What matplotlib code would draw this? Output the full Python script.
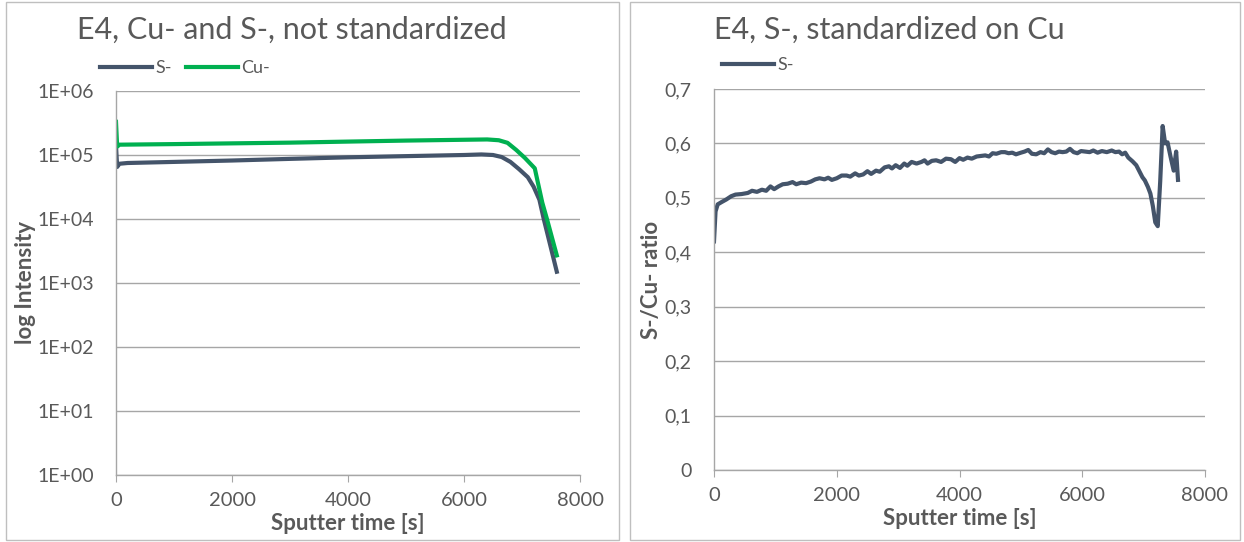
import math
import matplotlib
matplotlib.use("Agg")
import matplotlib.pyplot as plt
from matplotlib.patches import Rectangle
from matplotlib.ticker import FixedLocator, FuncFormatter

# left panel: raw intensities
t_raw = [0, 20, 60, 200, 1000, 2000, 3000, 4000, 5000, 6000, 6300, 6500, 6650,
         6800, 6950, 7100, 7200, 7300, 7375, 7500, 7600]
s_raw = [1.4e5, 6.5e4, 7.3e4, 7.5e4, 7.8e4, 8.2e4, 8.7e4, 9.2e4, 9.6e4, 1.0e5,
         1.02e5, 1.0e5, 9.3e4, 7.8e4, 6.0e4, 4.5e4, 3.2e4, 2.0e4, 1.0e4, 3.5e3, 1.5e3]
t_cu = [0, 20, 60, 1000, 2000, 3000, 4000, 5000, 6000, 6400, 6600, 6750, 6900,
        7050, 7220, 7280, 7350, 7430, 7600]
cu_raw = [3.3e5, 1.35e5, 1.45e5, 1.48e5, 1.52e5, 1.56e5, 1.62e5, 1.68e5, 1.73e5,
          1.75e5, 1.7e5, 1.55e5, 1.2e5, 9.0e4, 6.2e4, 3.5e4, 1.8e4, 1.0e4, 2.7e3]

# right panel: S-/Cu- ratio
t_ratio = [0, 25, 60, 120, 200, 280, 350, 450, 550, 620, 700, 780, 850, 920, 980,
           1050, 1120, 1200, 1280, 1340, 1420, 1500, 1580, 1650, 1720, 1800, 1860,
           1920, 2000, 2080, 2160, 2220, 2300, 2360, 2430, 2500, 2560, 2640, 2700,
           2780, 2850, 2900, 2960, 3030, 3100, 3150, 3220, 3300, 3380, 3430, 3480,
           3550, 3620, 3700, 3780, 3860, 3930, 4000, 4060, 4130, 4200, 4280, 4350,
           4420, 4480, 4540, 4600, 4680, 4740, 4800, 4860, 4920, 5000, 5060, 5120,
           5180, 5250, 5320, 5380, 5440, 5500, 5560, 5620, 5680, 5740, 5800, 5860,
           5920, 5980, 6050, 6120, 6180, 6250, 6320, 6400, 6480, 6540, 6600, 6650,
           6700, 6750, 6820, 6880, 6930, 6980, 7020, 7070, 7110, 7150, 7190, 7230,
           7270, 7310, 7350, 7390, 7440, 7490, 7530, 7560]
ratio = [0.420, 0.475, 0.488, 0.492, 0.497, 0.503, 0.506, 0.507, 0.509, 0.513,
         0.511, 0.515, 0.513, 0.521, 0.516, 0.521, 0.525, 0.526, 0.529, 0.525,
         0.528, 0.527, 0.530, 0.534, 0.536, 0.534, 0.537, 0.533, 0.536, 0.541,
         0.541, 0.539, 0.545, 0.541, 0.543, 0.549, 0.544, 0.550, 0.548, 0.556,
         0.558, 0.554, 0.560, 0.555, 0.563, 0.559, 0.566, 0.563, 0.566, 0.569,
         0.563, 0.568, 0.569, 0.566, 0.572, 0.571, 0.566, 0.573, 0.570, 0.574,
         0.572, 0.576, 0.577, 0.578, 0.576, 0.582, 0.581, 0.584, 0.584, 0.582,
         0.583, 0.580, 0.583, 0.585, 0.588, 0.581, 0.580, 0.584, 0.582, 0.589,
         0.584, 0.582, 0.585, 0.584, 0.585, 0.590, 0.584, 0.582, 0.586, 0.585,
         0.584, 0.587, 0.583, 0.586, 0.584, 0.587, 0.584, 0.585, 0.580, 0.583,
         0.574, 0.567, 0.560, 0.549, 0.538, 0.532, 0.520, 0.508, 0.485, 0.455,
         0.448, 0.530, 0.632, 0.600, 0.602, 0.575, 0.550, 0.585, 0.533]

x_ticks = [0, 2000, 4000, 6000, 8000]
log_ticks = [1e0, 1e1, 1e2, 1e3, 1e4, 1e5, 1e6]
log_labels = ["1E+00", "1E+01", "1E+02", "1E+03", "1E+04", "1E+05", "1E+06"]
ratio_ticks = [0, 0.1, 0.2, 0.3, 0.4, 0.5, 0.6, 0.7]

S_COL = "#44546A"
CU_COL = "#00B050"
TXT = "#595959"
GRID = "#A6A6A6"

plt.rcParams["font.family"] = ["Lato", "DejaVu Sans"]

fig = plt.figure(figsize=(12.44, 5.42), dpi=100)

# panel frames
for x0, w in [(6, 613), (630, 610)]:
    fig.patches.append(Rectangle((x0 / 1244, 2 / 542), w / 1244, 538 / 542,
                                 transform=fig.transFigure, fill=False,
                                 edgecolor="#BFBFBF", linewidth=1.0))


def style_axes(ax):
    for side in ["top", "right"]:
        ax.spines[side].set_visible(False)
    for side in ["left", "bottom"]:
        ax.spines[side].set_color(GRID)
        ax.spines[side].set_linewidth(1.0)
    ax.grid(axis="y", color=GRID, linewidth=1.0)
    ax.set_axisbelow(True)
    ax.tick_params(axis="x", direction="out", length=5, color=GRID,
                   labelsize=14.5, labelcolor=TXT, pad=7)
    ax.tick_params(axis="y", length=0, labelsize=14, labelcolor=TXT, pad=16)
    ax.set_xlim(0, 8000)
    ax.set_xticks(x_ticks)
    ax.set_xlabel("Sputter time [s]", fontsize=16, fontweight="bold",
                  color=TXT, labelpad=3)


ax1 = fig.add_axes([116 / 1244, 1 - 475 / 542, 464 / 1244, 384 / 542])
style_axes(ax1)
ax1.set_yscale("log")
ax1.set_ylim(1, 1e6)
ax1.yaxis.set_major_locator(FixedLocator(log_ticks))
ax1.yaxis.set_minor_locator(FixedLocator([]))
ax1.yaxis.set_major_formatter(FuncFormatter(lambda v, p: log_labels[int(round(math.log10(v)))]))
ax1.plot(t_raw, s_raw, color=S_COL, linewidth=3, label="S-", solid_joinstyle="round")
ax1.plot(t_cu, cu_raw, color=CU_COL, linewidth=3, label="Cu-", solid_joinstyle="round")
ax1.set_ylabel("log Intensity", fontsize=16, fontweight="bold", color=TXT, labelpad=1)
fig.legend(handles=ax1.get_lines(), loc="upper left",
           bbox_to_anchor=(100 / 1244, 1 - 60 / 542), ncol=2, frameon=False,
           fontsize=13, labelcolor=TXT, handlelength=2.9, handletextpad=0.15,
           columnspacing=0.8, borderaxespad=0, borderpad=0)
fig.text(292 / 1244, 1 - 30 / 542, "E4, Cu- and S-, not standardized",
         fontsize=22, color=TXT, ha="center", va="center")

ax2 = fig.add_axes([714 / 1244, 1 - 470 / 542, 491 / 1244, 381 / 542])
style_axes(ax2)
ax2.set_ylim(0, 0.7)
ax2.set_yticks(ratio_ticks)
ax2.yaxis.set_major_formatter(FuncFormatter(lambda v, p: ("%.1f" % v).replace(".", ",") if v else "0"))
ax2.plot(t_ratio, ratio, color=S_COL, linewidth=3, label="S-", solid_joinstyle="round")
ax2.set_ylabel("S-/Cu- ratio", fontsize=16, fontweight="bold", color=TXT, labelpad=2)
fig.legend(handles=ax2.get_lines(), loc="upper left",
           bbox_to_anchor=(722 / 1244, 1 - 57 / 542), frameon=False,
           fontsize=13, labelcolor=TXT, handlelength=2.9, handletextpad=0.15,
           borderaxespad=0, borderpad=0)
fig.text(889 / 1244, 1 - 30 / 542, "E4, S-, standardized on Cu",
         fontsize=22, color=TXT, ha="center", va="center")

fig.savefig("out.png", dpi=100)
